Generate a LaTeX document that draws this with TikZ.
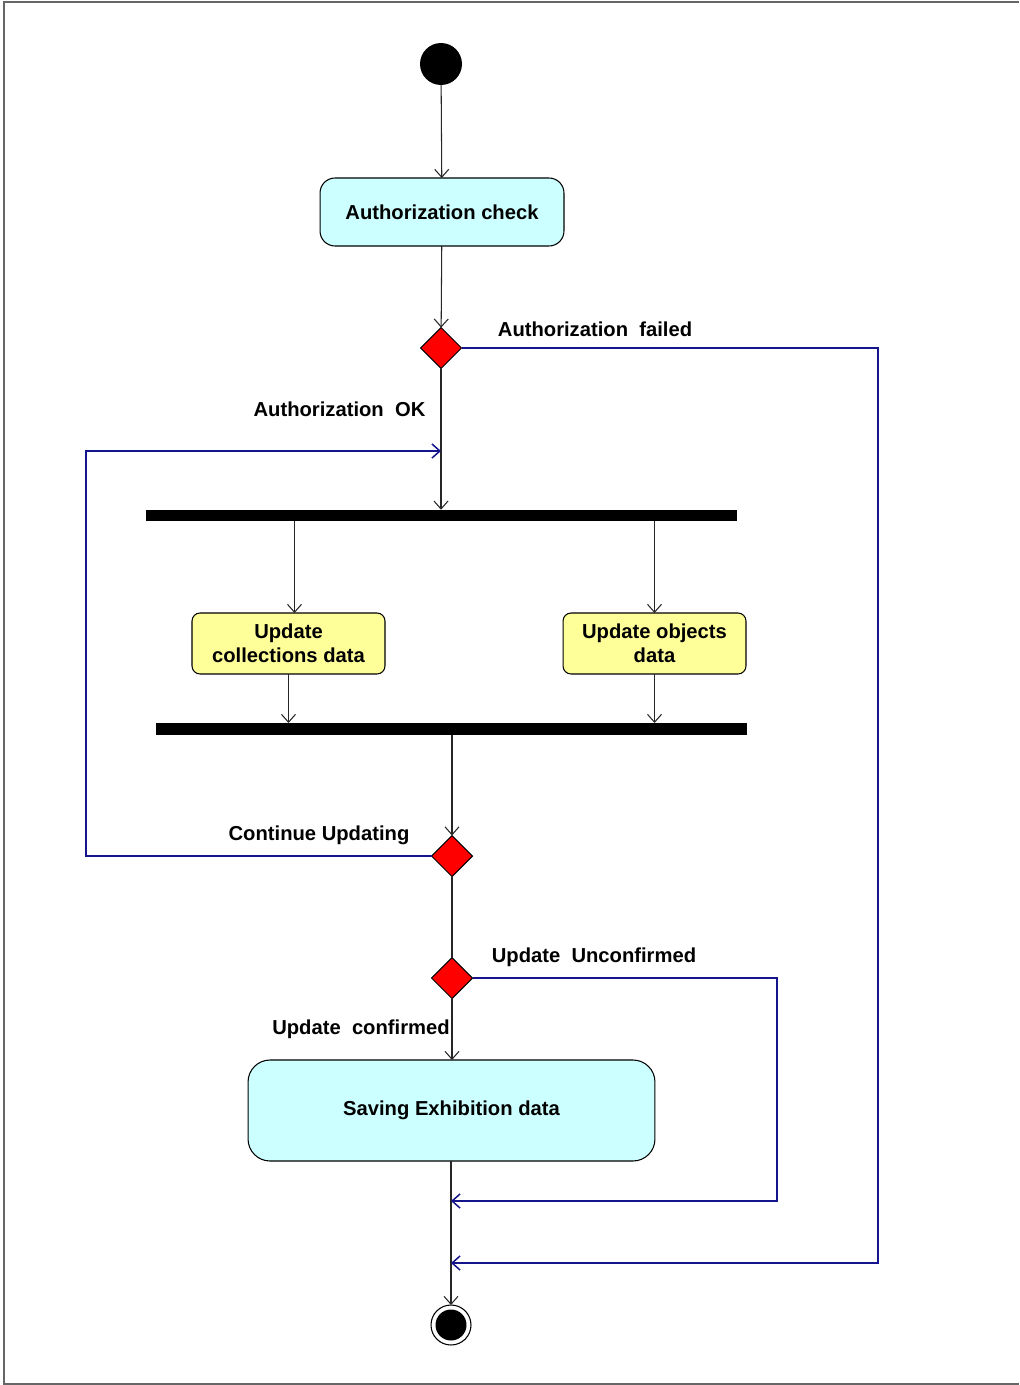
\documentclass[tikz,border=0pt]{standalone}
\usepackage{fontspec}
\setmainfont{Liberation Sans}
\usetikzlibrary{calc,shapes.geometric,arrows.meta}

\definecolor{actcyan}{HTML}{CCFFFF}
\definecolor{actyellow}{HTML}{FFFF99}
\definecolor{guardblue}{RGB}{20,20,140}

\begin{document}
\begin{tikzpicture}[x=0.02cm,y=-0.02cm,every node/.style={outer sep=0pt,font=\fontsize{11.5}{13.5}\selectfont\bfseries}]
\tikzstyle{action}=[draw,line width=0.6pt,rounded corners=0.3cm,fill=actcyan,align=center,inner sep=0pt]
\tikzstyle{task}=[action,fill=actyellow,rounded corners=0.16cm,minimum height=1.22cm]
\tikzstyle{decision}=[draw,diamond,fill=red,inner sep=0pt,minimum width=0.82cm,minimum height=0.82cm,line width=0.6pt]
\tikzstyle{bar}=[fill=black,inner sep=0pt,minimum width=11.82cm,minimum height=0.23cm]
\tikzstyle{guard}=[inner sep=0pt]
\tikzstyle{flow}=[line width=0.6pt,black!85,-{Straight Barb[length=4.5pt,width=8pt]}]
\tikzstyle{guardline}=[flow,guardblue,line width=0.85pt]

\useasboundingbox (0,0) rectangle (1019,1385);
\draw [black!60,line width=0.8pt] (1019,2) -- (4,2) -- (4,1384) -- (1019,1384);

\node (start) [circle,fill=black,minimum size=0.84cm,inner sep=0pt] at (441,64) {};
\node (auth) [action,minimum width=4.88cm,minimum height=1.36cm] at (442,212) {Authorization check};
\node (D1) [decision] at (441,348) {};

\node (fork) [bar] at (441.5,515.5) {};
\node (U1) [task,minimum width=3.86cm] at (288.5,643.5) {Update\\collections data};
\node (U2) [task,minimum width=3.66cm] at (654.5,643.5) {Update objects\\data};
\node (join) [bar,minimum height=0.24cm] at (451.5,729) {};

\node (D2) [decision] at (452,856) {};
\node (D3) [decision] at (452,978) {};
\node (save) [action,rounded corners=0.44cm,minimum width=8.14cm,minimum height=2.02cm] at (451.5,1110.5) {Saving Exhibition data};

\node (end) [circle,draw,line width=0.6pt,minimum size=0.8cm,inner sep=0pt] at (451,1325) {};
\fill (end) circle (0.31cm);

% guards
\node (failed) [guard] at (595,329) {Authorization\ \ failed};
\node (ok) [guard] at (339.5,409) {Authorization\ \ OK};
\node (cont) [guard] at (319,835) {Continue Updating};
\node (unconf) [guard] at (594,957) {Update\ \ Unconfirmed};
\node (conf) [guard] at (361,1029) {Update\ \ confirmed};

\coordinate (in0) at (441,451);
\coordinate (in1) at (451,1201);
\coordinate (in2) at (451,1263);

\draw [flow] (start) -- (auth);
\draw [flow] (auth) -- (D1);
\draw [flow] (D1.south) -- (D1.south |- fork.north);
\draw [flow] ($(fork.south -| U1.north)+(6,0)$) -- ($(U1.north)+(6,0)$);
\draw [flow] (fork.south -| U2.north) -- (U2.north);
\draw [flow] (U1.south) -- (U1.south |- join.north);
\draw [flow] (U2.south) -- (U2.south |- join.north);
\draw [flow] (join.south -| D2.north) -- (D2.north);
\draw [line width=0.6pt,black!85] (D2.south) -- (D3.north);
\draw [flow] (D3.south) -- (save.north -| D3.south);
\draw [flow] (save.south -| end.north) -- (end.north);

\draw [guardline] (D1.east) -| ($(in2)+(427,0)$) -- (in2);
\draw [guardline] (D2.west) -| ($(in0)+(-355,0)$) -- (in0);
\draw [guardline] (D3.east) -| ($(in1)+(326,0)$) -- (in1);
\end{tikzpicture}
\end{document}
